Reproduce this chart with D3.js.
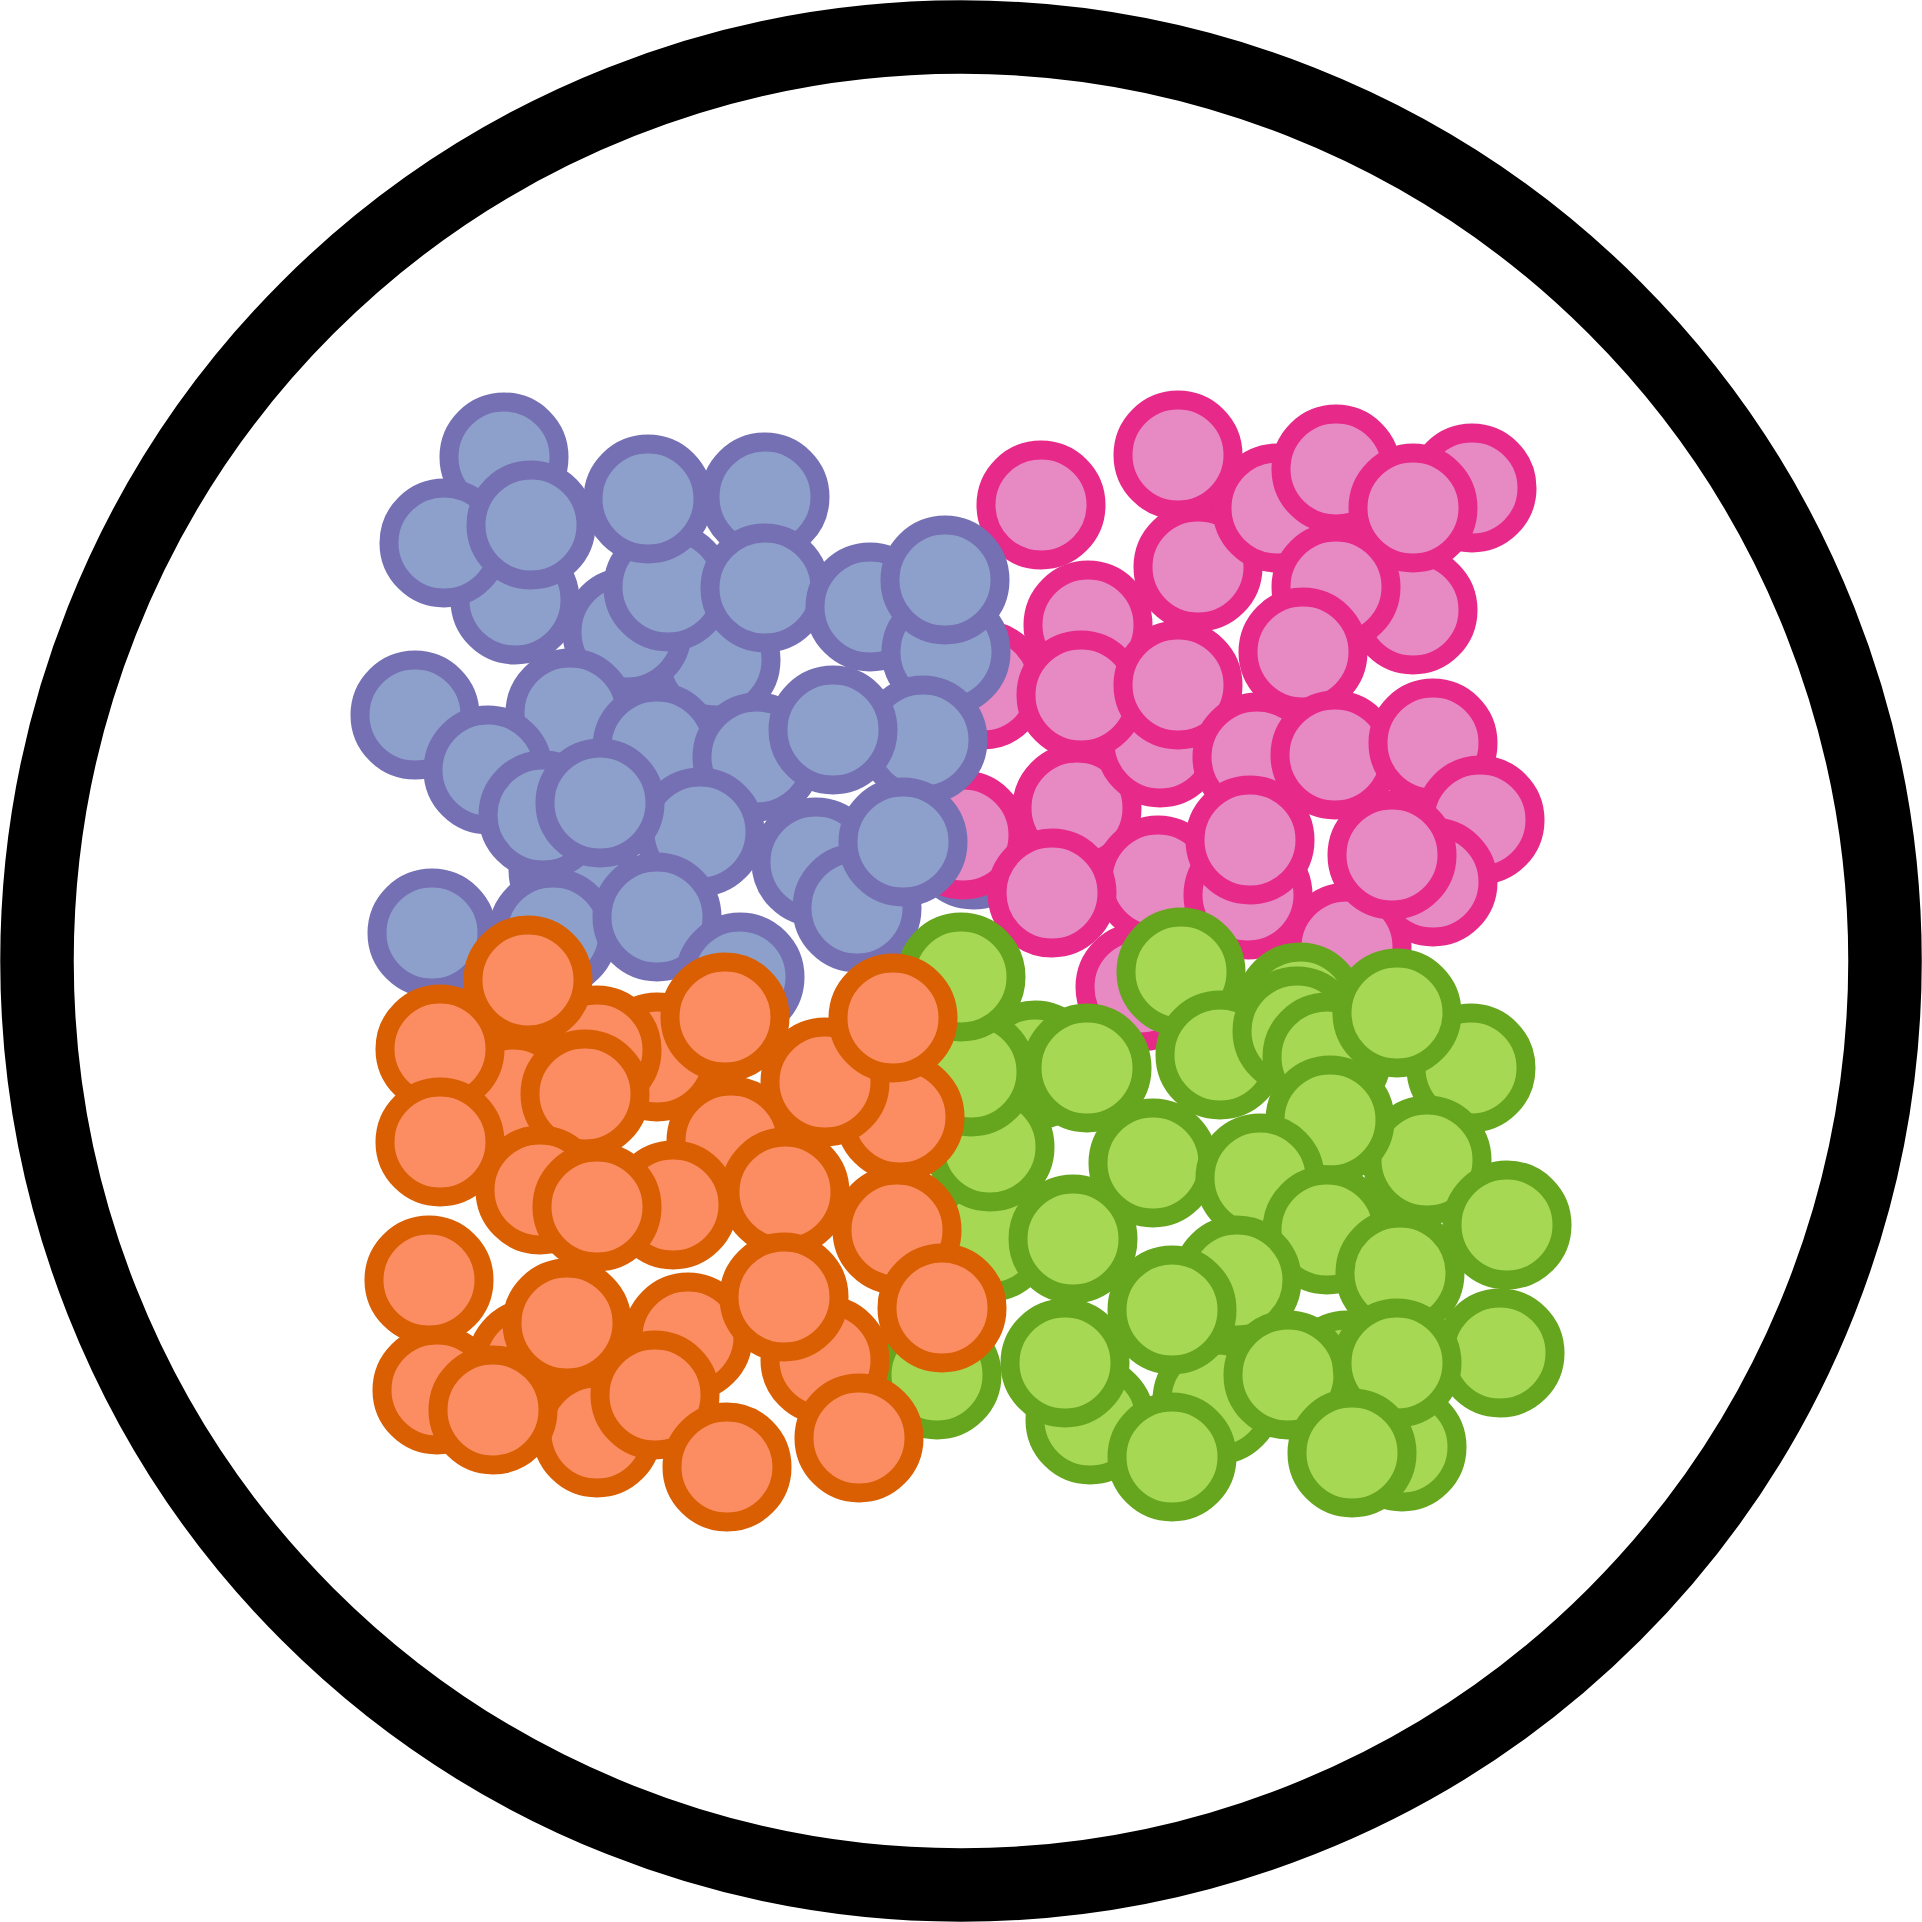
<!DOCTYPE html>
<html>
<head>
<meta charset="utf-8">
<script src="https://cdn.jsdelivr.net/npm/d3@7"></script>
<style>
  html, body { margin: 0; padding: 0; background: #fff; }
  svg { display: block; }
</style>
</head>
<body>
<script>
// Node centres (reference pixel units), listed in drawing order.
const blueBehind = [[973, 845]];
const pink = [
  [1140, 987], [983, 685], [1077, 808], [1158, 880], [963, 835], [1052, 893],
  [1160, 743], [1088, 625], [1081, 695], [1198, 567], [1178, 455], [1178, 685],
  [1277, 508], [1336, 469], [1472, 488], [1413, 610], [1413, 508], [1336, 587],
  [1303, 652], [1257, 757], [1335, 755], [1433, 743], [1480, 820], [1433, 882],
  [1347, 947], [1248, 895], [1250, 840], [1392, 855], [1041, 505]
];
const blue = [
  [716, 660], [515, 600], [504, 457], [444, 543], [531, 525], [627, 632],
  [668, 587], [648, 499], [765, 497], [765, 588], [570, 713], [415, 715],
  [488, 770], [657, 747], [870, 607], [946, 652], [945, 580], [923, 740],
  [757, 757], [833, 730], [573, 870], [553, 933], [543, 815], [700, 832],
  [600, 803], [657, 917], [432, 933], [816, 862], [740, 977], [857, 908],
  [903, 842]
];
const green = [
  [1035, 1065], [990, 1237], [1347, 1375], [1217, 1400], [1402, 1447], [1090, 1420],
  [937, 1375], [990, 1147], [971, 1072], [961, 977], [1087, 1068], [1181, 972],
  [1220, 1055], [1300, 1007], [1297, 1031], [1327, 1057], [1471, 1068], [1397, 1013],
  [1427, 1160], [1330, 1120], [1153, 1163], [1073, 1239], [1260, 1178], [1327, 1230],
  [1400, 1273], [1507, 1225], [1237, 1280], [1172, 1310], [1065, 1363], [1500, 1353],
  [1288, 1375], [1397, 1363], [1352, 1453], [1172, 1457]
];
const orange = [
  [657, 1057], [597, 1050], [513, 1095], [440, 1049], [528, 980], [585, 1094],
  [725, 1017], [440, 1142], [731, 1141], [900, 1117], [825, 1082], [893, 1018],
  [785, 1192], [540, 1190], [673, 1205], [597, 1207], [437, 1390], [532, 1363],
  [597, 1433], [688, 1337], [825, 1360], [429, 1280], [567, 1323], [493, 1410],
  [655, 1395], [727, 1467], [784, 1297], [897, 1230], [942, 1308], [859, 1438]
];

const groups = [
  { key: "blue",   nodes: blueBehind, fill: "#8da0cb", stroke: "#7570b3" },
  { key: "pink",   nodes: pink,       fill: "#e78ac3", stroke: "#e7298a" },
  { key: "blue",   nodes: blue,       fill: "#8da0cb", stroke: "#7570b3" },
  { key: "green",  nodes: green,      fill: "#a6d854", stroke: "#66a61e" },
  { key: "orange", nodes: orange,     fill: "#fc8d62", stroke: "#d95f02" }
];

const W = 1922, H = 1922;
const x = d3.scaleLinear().domain([0, 1922]).range([0, W]);
const y = d3.scaleLinear().domain([0, 1922]).range([0, H]);
const nodeR = 55, nodeStroke = 19;
const ringR = 924, ringStroke = 73.5;

const svg = d3.select("body").append("svg")
  .attr("width", W).attr("height", H)
  .attr("viewBox", [0, 0, W, H]);

svg.append("rect").attr("width", W).attr("height", H).attr("fill", "#fff");

const all = groups.flatMap(g => g.nodes.map(n => ({ x: n[0], y: n[1], fill: g.fill, stroke: g.stroke })));

svg.append("g").selectAll("circle")
  .data(all)
  .join("circle")
  .attr("cx", d => x(d.x))
  .attr("cy", d => y(d.y))
  .attr("r", nodeR)
  .attr("fill", d => d.fill)
  .attr("stroke", d => d.stroke)
  .attr("stroke-width", nodeStroke);

svg.append("circle")
  .attr("cx", x(961)).attr("cy", y(961))
  .attr("r", ringR)
  .attr("fill", "none")
  .attr("stroke", "#000")
  .attr("stroke-width", ringStroke);
</script>
</body>
</html>
